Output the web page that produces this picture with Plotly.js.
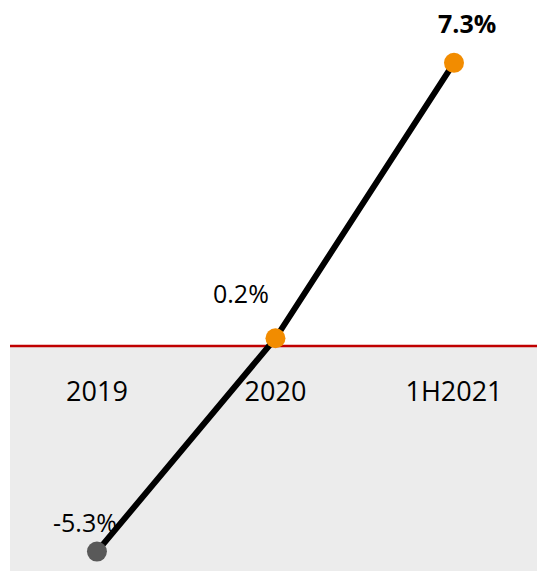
<!DOCTYPE html>
<html>
<head>
<meta charset="utf-8">
<script src="https://cdn.plot.ly/plotly-3.0.1.min.js"></script>
<style>html,body{margin:0;padding:0;background:#fff;}#chart{width:537px;height:571px;}</style>
</head>
<body>
<div id="chart"></div>
<script>
var categories = ["2019", "2020", "1H2021"];
var values = [-5.3, 0.2, 7.3];
var markerColors = ["#595959", "#F28C00", "#F28C00"];
var labelText = ["-5.3%", "0.2%", "<b>7.3%</b>"];

var FONT = "Open Sans, sans-serif";
var labelShift = [[-12, 30], [-34, 45], [13, 40]];

var annotations = categories.map(function (c, i) {
  return {
    x: i, y: values[i], xref: "x", yref: "y",
    text: labelText[i], showarrow: false,
    xshift: labelShift[i][0], yshift: labelShift[i][1],
    font: {family: FONT, size: 25, color: "#000"}
  };
});

var trace = {
  type: "scatter", mode: "lines+markers",
  x: categories, y: values,
  line: {color: "#000000", width: 6},
  marker: {size: 20, color: markerColors, line: {width: 0}},
  hoverinfo: "skip", cliponaxis: false
};

var yMin = -5.8, yMax = 8.92;

var layout = {
  width: 537, height: 571,
  margin: {l: 10, r: 0, t: 0, b: 0},
  paper_bgcolor: "#ffffff", plot_bgcolor: "#ffffff",
  showlegend: false,
  xaxis: {
    type: "category", range: [-0.487, 2.465],
    showgrid: false, zeroline: false, showline: false, ticks: "",
    anchor: "free", position: (0 - yMin) / (yMax - yMin),
    ticklabelstandoff: 27,
    tickfont: {family: FONT, size: 27, color: "#000"}
  },
  yaxis: {
    range: [yMin, yMax], visible: false, showgrid: false, zeroline: false
  },
  shapes: [
    {type: "rect", xref: "paper", yref: "y", x0: 0, x1: 1, y0: yMin, y1: 0,
     fillcolor: "#ECECEC", line: {width: 0}, layer: "below"},
    {type: "line", xref: "paper", yref: "y", x0: 0, x1: 1, y0: 0, y1: 0,
     line: {color: "#C00000", width: 2.5}, layer: "below"}
  ],
  annotations: annotations
};

Plotly.newPlot("chart", [trace], layout, {displayModeBar: false, staticPlot: true});
</script>
</body>
</html>
